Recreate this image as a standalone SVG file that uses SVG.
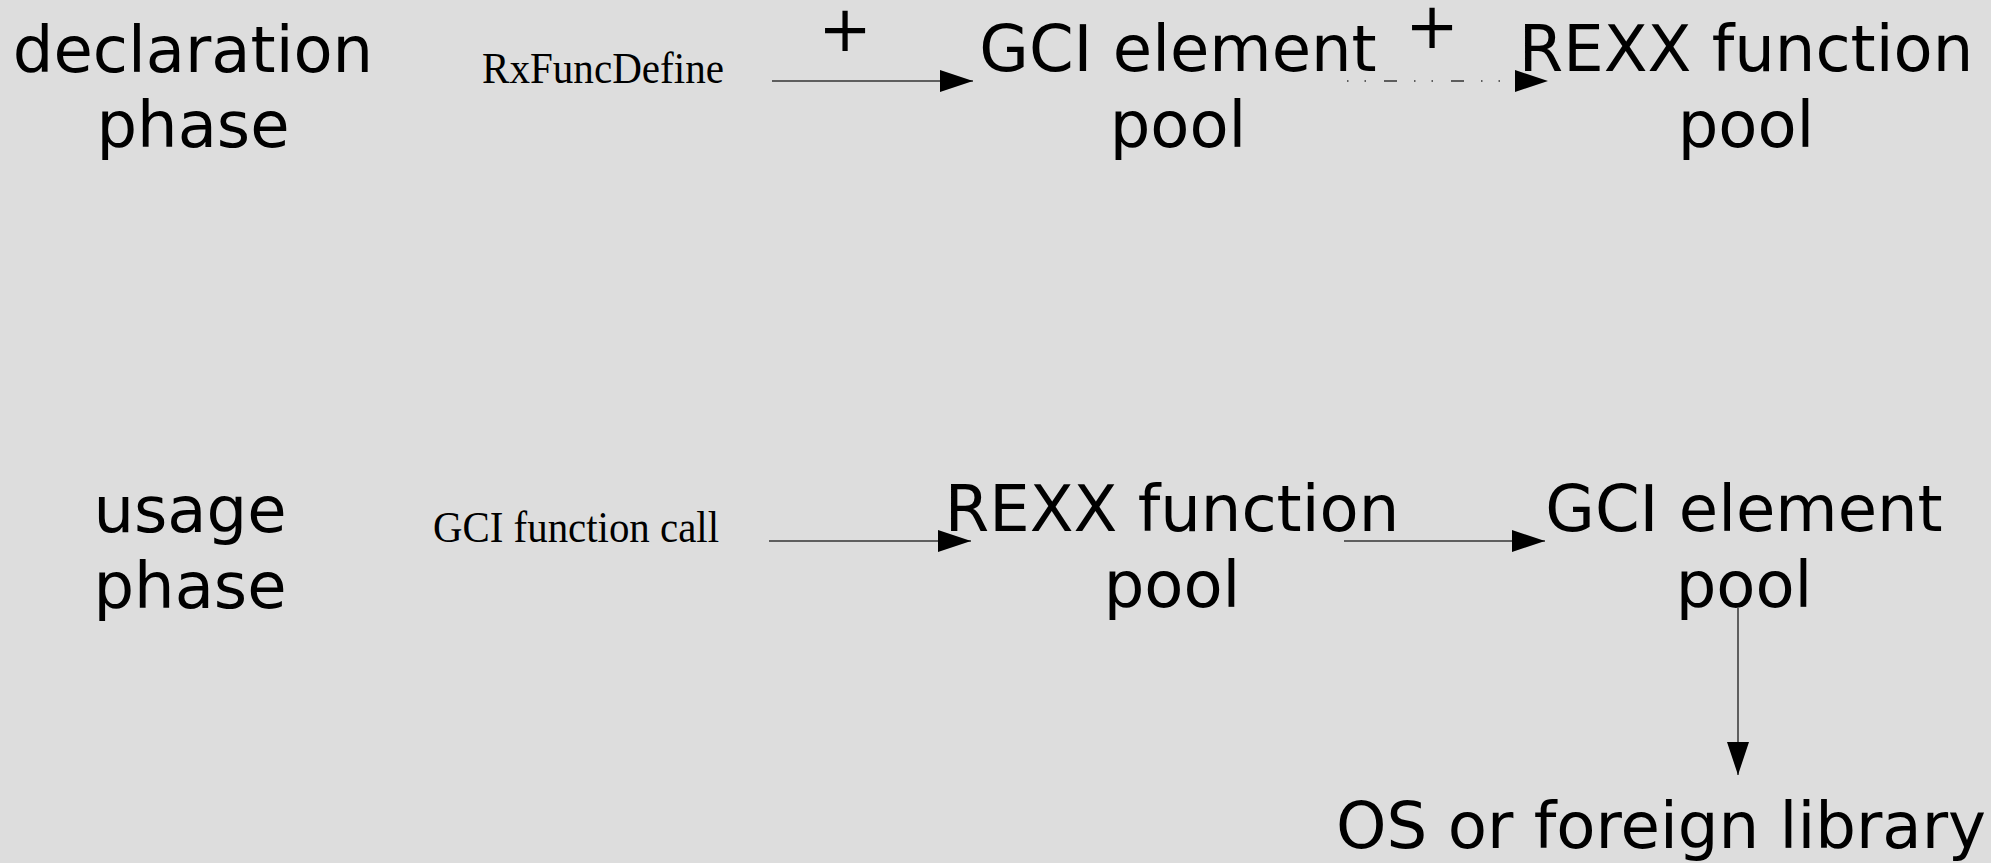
<svg xmlns="http://www.w3.org/2000/svg" width="1991" height="863" viewBox="0 0 1991 863">
  <defs>
    <style>
      .big { font-family: "DejaVu Sans", sans-serif; font-size: 64px; fill: #000; text-anchor: middle; }
      .lbl { font-family: "Liberation Serif", serif; font-size: 45px; fill: #000; }
      .conn { stroke: #333; stroke-width: 1.5; fill: none; }
      .dashed { stroke-dasharray: 1.5 16 1.5 18 13 17; }
    </style>
    <marker id="arrow" markerUnits="userSpaceOnUse" markerWidth="33" markerHeight="22" refX="33" refY="11" orient="auto" viewBox="0 0 33 22">
      <path d="M0,0 L33,11 L0,22 Z" fill="#000"/>
    </marker>
  </defs>
  <rect width="1991" height="863" fill="#dddddd"/>

  <g id="declaration-phase">
    <text class="big" x="193" y="72">declaration</text>
    <text class="big" x="193" y="147">phase</text>
  </g>
  <g id="rxfuncdefine">
    <text class="lbl" x="482" y="83" textLength="242" lengthAdjust="spacingAndGlyphs">RxFuncDefine</text>
  </g>
  <g id="gci-element-pool-top">
    <text class="big" x="1178" y="71">GCI element</text>
    <text class="big" x="1178" y="147">pool</text>
  </g>
  <g id="rexx-function-pool-top">
    <text class="big" x="1746" y="71">REXX function</text>
    <text class="big" x="1746" y="147">pool</text>
  </g>

  <g id="usage-phase">
    <text class="big" x="190" y="532">usage</text>
    <text class="big" x="190" y="608">phase</text>
  </g>
  <g id="gci-function-call">
    <text class="lbl" x="433" y="542" textLength="286" lengthAdjust="spacingAndGlyphs">GCI function call</text>
  </g>
  <g id="rexx-function-pool-bottom">
    <text class="big" x="1172" y="531">REXX function</text>
    <text class="big" x="1172" y="607">pool</text>
  </g>
  <g id="gci-element-pool-bottom">
    <text class="big" x="1744" y="531">GCI element</text>
    <text class="big" x="1744" y="607">pool</text>
  </g>
  <g id="os-library">
    <text class="big" x="1661" y="848" textLength="650" lengthAdjust="spacingAndGlyphs">OS or foreign library</text>
  </g>

  <g id="connectors">
    <line class="conn" x1="772" y1="81" x2="973" y2="81" marker-end="url(#arrow)"/>
    <text class="big" x="845" y="51">+</text>
    <line class="conn dashed" x1="1347" y1="81" x2="1548" y2="81" marker-end="url(#arrow)"/>
    <text class="big" x="1432" y="48">+</text>
    <line class="conn" x1="769" y1="541" x2="971" y2="541" marker-end="url(#arrow)"/>
    <line class="conn" x1="1344" y1="541" x2="1545" y2="541" marker-end="url(#arrow)"/>
    <line class="conn" x1="1738" y1="608" x2="1738" y2="775" marker-end="url(#arrow)"/>
  </g>
</svg>
